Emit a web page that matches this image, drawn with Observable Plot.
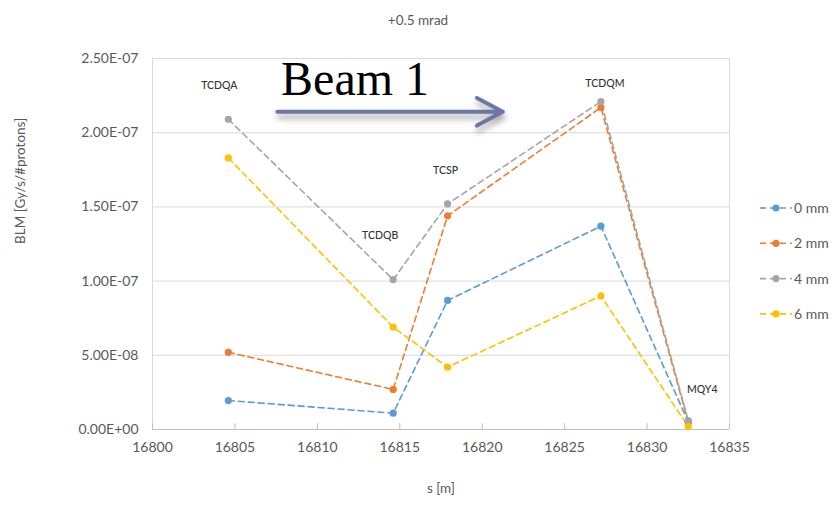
<!DOCTYPE html>
<html><head><meta charset="utf-8">
<script src="https://cdn.jsdelivr.net/npm/d3@7"></script>
<script src="https://cdn.jsdelivr.net/npm/@observablehq/plot@0.6"></script>
<style>
body{margin:0;background:#fff}
#chart{position:relative;width:835px;height:505px;overflow:hidden}
</style>
</head><body><div id="chart"></div>
<script>
// ---- data ----
const elements = ["TCDQA", "TCDQB", "TCSP", "TCDQM", "MQY4"];
const positions = [16804.6, 16814.6, 16817.9, 16827.2, 16832.5];
const seriesNames = ["0 mm", "2 mm", "4 mm", "6 mm"];
const values0mm = [1.95e-8, 1.1e-8, 8.7e-8, 1.37e-7, 0.5e-8];
const values2mm = [5.2e-8, 2.7e-8, 1.44e-7, 2.17e-7, 0.5e-8];
const values4mm = [2.09e-7, 1.01e-7, 1.52e-7, 2.21e-7, 0.6e-8];
const values6mm = [1.83e-7, 6.9e-8, 4.2e-8, 9.0e-8, 0.2e-8];
const seriesValues = [values0mm, values2mm, values4mm, values6mm];
const xTicks = [16800, 16805, 16810, 16815, 16820, 16825, 16830, 16835];
const yTicks = [0, 5e-8, 1e-7, 1.5e-7, 2e-7, 2.5e-7];
const titleText = "+0.5 mrad";
const xLabel = "s [m]";
const yLabel = "BLM [Gy/s/#protons]";
const beamLabel = "Beam 1";
const beamArrow = {s1: 16807.57, s2: 16821.25, level: 2.141e-7, textS: 16807.8, textLevel: 2.357e-7};

// ---- styles ----
const seriesColors = ["#5b9bd5", "#ed7d31", "#a5a5a5", "#ffc000"];
const font = "Lato, 'Open Sans', sans-serif";
const textGray = "#595959";
const tickLen = 4e-9; // short inward tick marks on the s axis

const rows = seriesNames.flatMap((name, i) =>
  positions.map((s, j) => ({series: name, s, v: seriesValues[i][j]})));
const labelRows = elements.map((el, j) => ({el, s: positions[j], v: d3.max(seriesValues, a => a[j])}));
const labelOffsets = {TCDQA: [-9, -34], TCDQB: [-13, -44], TCSP: [-2, -33], TCDQM: [4, -18], MQY4: [14, -31]};

function sci(d) {
  const [m, e] = d.toExponential(2).split("e");
  const n = +e;
  return m + "E" + (n < 0 ? "-" : "+") + String(Math.abs(n)).padStart(2, "0");
}

const chart = Plot.plot({
  width: 835, height: 505,
  marginLeft: 152, marginRight: 106, marginTop: 58, marginBottom: 76,
  style: {fontFamily: font, fontSize: "14px", color: textGray, background: "#fff"},
  x: {domain: [16800, 16835]},
  y: {domain: [0, 2.5e-7]},
  color: {domain: seriesNames, range: seriesColors},
  marks: [
    Plot.gridY(yTicks, {stroke: "#d9d9d9", strokeOpacity: 1}),
    Plot.ruleX([16800, 16835], {stroke: "#d9d9d9"}),
    Plot.ruleY([0], {stroke: "#bfbfbf"}),
    Plot.ruleX(xTicks, {x: d => d, y1: 0, y2: tickLen, stroke: "#bfbfbf"}),
    Plot.axisX(xTicks, {tickSize: 0, tickPadding: 13, tickFormat: d => String(d), label: null, fill: textGray, fontSize: 14}),
    Plot.axisY(yTicks, {tickSize: 0, tickPadding: 14, tickFormat: sci, label: null, fill: textGray, fontSize: 14}),
    Plot.text([titleText], {frameAnchor: "top", dx: -23, dy: -43, fill: textGray, fontSize: 13.5}),
    Plot.text([xLabel], {frameAnchor: "bottom", dy: 63, fill: textGray, fontSize: 13.5}),
    Plot.text([yLabel], {frameAnchor: "left", dx: -132, rotate: -90, fill: textGray, fontSize: 13.5}),
    Plot.line(rows, {x: "s", y: "v", z: "series", stroke: "series", strokeWidth: 1.6, strokeDasharray: "6,4"}),
    Plot.dot(rows, {x: "s", y: "v", fill: "series", r: 3.6}),
    ...labelRows.map(d => Plot.text([d], {x: "s", y: "v", text: "el", dx: labelOffsets[d.el][0], dy: labelOffsets[d.el][1], fontSize: 10.5, fill: "#333", fontWeight: 500})),
    Plot.arrow([beamArrow], {x1: "s1", x2: "s2", y1: "level", y2: "level", bend: 0, stroke: "#6b77a6", strokeWidth: 4, headLength: 11, headAngle: 56}),
    Plot.text([beamArrow], {x: "textS", y: "textLevel", text: () => beamLabel, textAnchor: "start", fontFamily: "'Liberation Serif', 'DejaVu Serif', serif", fontSize: 48, fill: "#000"})
  ]
});

const svg = d3.select(chart);
svg.selectAll('g[aria-label="arrow"]').style("filter", "drop-shadow(1px 5px 3px rgba(0,0,0,0.35))");

// legend
const lg = svg.append("g").attr("font-family", font).attr("font-size", 14).attr("fill", textGray).attr("text-anchor", "start");
seriesNames.forEach((name, i) => {
  const y = 208 + i * 35.3;
  const g = lg.append("g").attr("transform", `translate(0,${y})`);
  g.append("line").attr("x1", 760).attr("x2", 792).attr("y1", 0).attr("y2", 0)
    .attr("stroke", seriesColors[i]).attr("stroke-width", 1.6).attr("stroke-dasharray", "6,4");
  g.append("circle").attr("cx", 776).attr("cy", 0).attr("r", 3.6).attr("fill", seriesColors[i]);
  g.append("text").attr("x", 794).attr("y", 0).attr("dy", "0.35em").attr("text-anchor", "start").text(name);
});

document.getElementById("chart").appendChild(chart);
</script>
</body></html>
